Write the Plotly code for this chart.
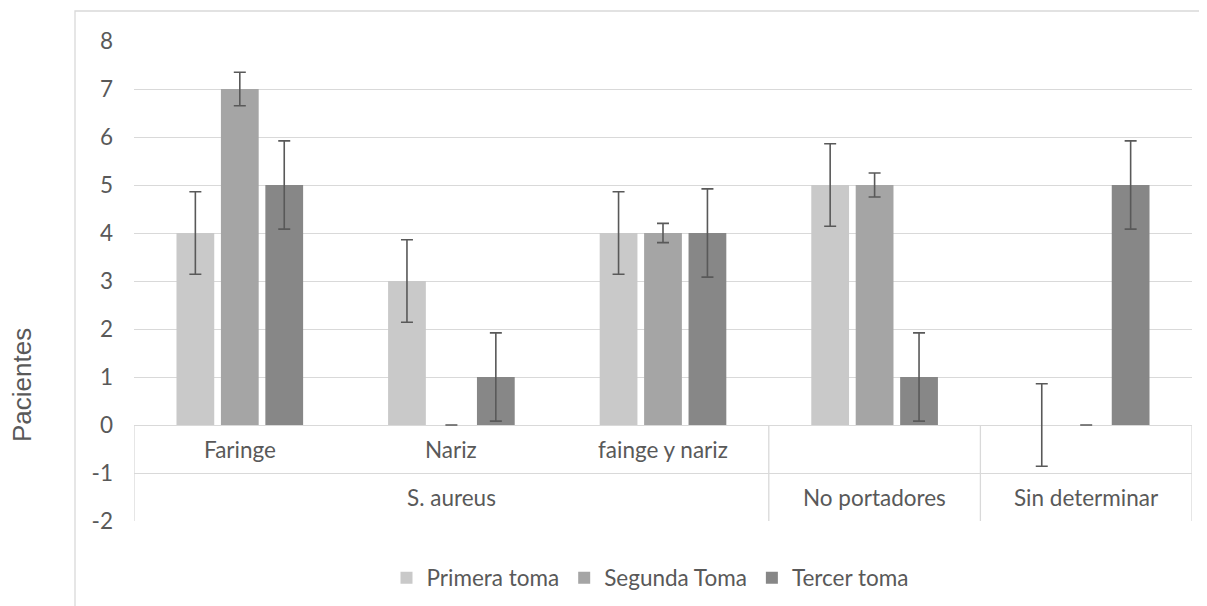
import plotly.graph_objects as go

# ---- data ----
categories = ["Faringe", "Nariz", "fainge y nariz", "No portadores", "Sin determinar"]
sub_labels = ["Faringe", "Nariz", "fainge y nariz", "", ""]
group_labels = ["S. aureus", "No portadores", "Sin determinar"]
group_spans = [(0, 2), (3, 3), (4, 4)]  # category index ranges of each group

series_names = ["Primera toma", "Segunda Toma", "Tercer toma"]
primera = [4, 3, 4, 5, 0]
segunda = [7, 0, 4, 5, 0]
tercer = [5, 1, 4, 1, 5]
err_primera = [0.86, 0.86, 0.86, 0.86, 0.86]
err_segunda = [0.35, 0, 0.2, 0.25, 0]
err_tercer = [0.92, 0.92, 0.92, 0.92, 0.92]
y_ticks = [-2, -1, 0, 1, 2, 3, 4, 5, 6, 7, 8]
y_ticktext = [str(v) for v in y_ticks]

# ---- styles ----
colors = ["#C9C9C9", "#A5A5A5", "#878787"]
grid = "#D9D9D9"
txt = "#595959"
FONT = "Lato"
FS = 22.5

OFF = 8  # page body margin
W, H = 1207 - OFF, 606 - OFF
L, R, T, B = 134 - OFF, 15, 41 - OFF, 85
pw, ph = W - L - R, H - T - B

def px_x(p):  # viewport px -> paper
    return (p - OFF - L) / pw

def px_y(p):
    return (H - B - (p - OFF)) / ph

fig = go.Figure()
for name, vals, errs, col in zip(series_names, [primera, segunda, tercer],
                                  [err_primera, err_segunda, err_tercer], colors):
    fig.add_trace(go.Bar(
        x=categories, y=vals, name=name,
        marker=dict(color=col, line=dict(width=0)),
        error_y=dict(type="data", array=errs, visible=True,
                     color=txt, thickness=1.6, width=6),
    ))

shapes = []
n = len(categories)
for xv in [-0.5, 2.5, 3.5, n - 0.5]:
    shapes.append(dict(type="line", xref="x", yref="y", x0=xv, x1=xv, y0=0, y1=-2,
                       line=dict(color=grid, width=1.3)))
shapes.append(dict(type="rect", xref="paper", yref="paper",
                   x0=px_x(75), x1=px_x(1215), y0=px_y(615), y1=px_y(11),
                   line=dict(color=grid, width=1.3), fillcolor="rgba(0,0,0,0)"))

annotations = []
for i, lab in enumerate(sub_labels):
    if lab:
        annotations.append(dict(x=i, y=-0.5, xref="x", yref="y", text=lab, showarrow=False,
                                xanchor="center", yanchor="middle",
                                font=dict(family=FONT, size=FS, color=txt)))
for lab, (a, b) in zip(group_labels, group_spans):
    annotations.append(dict(x=(a + b) / 2, y=-1.5, xref="x", yref="y", text=lab, showarrow=False,
                            xanchor="center", yanchor="middle",
                            font=dict(family=FONT, size=FS, color=txt)))
annotations.append(dict(x=px_x(22), y=px_y(385), xref="paper", yref="paper",
                        text="Pacientes", textangle=-90, showarrow=False,
                        xanchor="center", yanchor="middle",
                        font=dict(family="Liberation Sans", size=26, color=txt)))

fig.update_layout(
    width=W, height=H,
    margin=dict(l=L, r=R, t=T, b=B, autoexpand=False),
    paper_bgcolor="white", plot_bgcolor="white",
    barmode="group", bargap=0.37, bargroupgap=0.15,
    font=dict(family=FONT, color=txt, size=FS),
    xaxis=dict(showticklabels=False, showgrid=False, zeroline=False, showline=False,
               range=[-0.5, n - 0.5], fixedrange=True, automargin=False),
    yaxis=dict(range=[-2, 8], tickvals=y_ticks, ticktext=y_ticktext, showgrid=True,
               gridcolor=grid, gridwidth=1.3, automargin=False,
               zeroline=True, zerolinecolor=grid, zerolinewidth=1.3, showline=False,
               ticklabelstandoff=20, tickfont=dict(family=FONT, size=FS, color=txt)),
    legend=dict(orientation="h", x=px_x(650), xanchor="center", y=px_y(578), yanchor="middle",
                font=dict(family=FONT, size=FS, color=txt), traceorder="normal"),
    shapes=shapes, annotations=annotations,
    showlegend=True,
)

fig.write_html("out.html")
